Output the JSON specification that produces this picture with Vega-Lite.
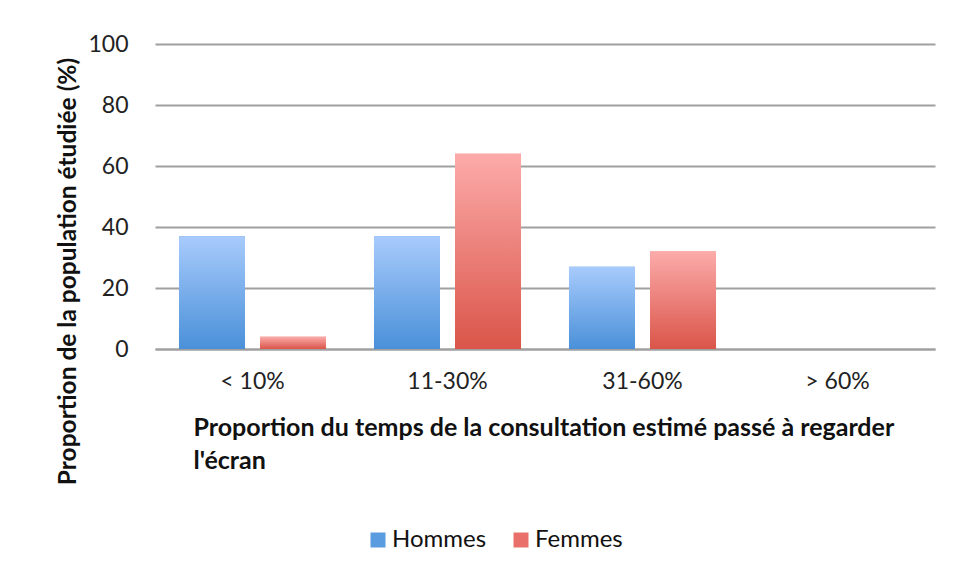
{
  "$schema": "https://vega.github.io/schema/vega-lite/v6.json",
  "width": 780,
  "height": 305,
  "autosize": {"type": "none"},
  "padding": {"left": 155, "top": 44, "right": 24, "bottom": 229},
  "background": "white",
  "config": {
    "view": {"stroke": null},
    "font": "Lato",
    "axis": {"labelFont": "Lato", "titleFont": "Lato", "labelColor": "#222", "titleColor": "#111"}
  },
  "data": {
    "values": [
      {"cat": "< 10%", "sexe": "Hommes", "val": 37},
      {"cat": "< 10%", "sexe": "Femmes", "val": 4},
      {"cat": "11-30%", "sexe": "Hommes", "val": 37},
      {"cat": "11-30%", "sexe": "Femmes", "val": 64},
      {"cat": "31-60%", "sexe": "Hommes", "val": 27},
      {"cat": "31-60%", "sexe": "Femmes", "val": 32},
      {"cat": "> 60%", "sexe": "Hommes", "val": 0},
      {"cat": "> 60%", "sexe": "Femmes", "val": 0}
    ]
  },
  "encoding": {
    "x": {
      "field": "cat", "type": "nominal", "sort": ["< 10%", "11-30%", "31-60%", "> 60%"],
      "scale": {"paddingInner": 0.246, "paddingOuter": 0.123},
      "axis": {
        "title": ["Proportion du temps de la consultation estimé passé à regarder", "l'écran"],
        "titleFontSize": 25, "titleFontWeight": "bold", "titleAlign": "left", "titleX": 38, "titleY": 66,
        "titleLineHeight": 33,
        "labelAngle": 0, "labelFontSize": 23, "labelPadding": 21, "ticks": false,
        "domainColor": "#a0a0a0", "domainWidth": 2
      }
    },
    "xOffset": {"field": "sexe", "type": "nominal", "sort": ["Hommes", "Femmes"], "scale": {"paddingInner": 0.185, "paddingOuter": 0}},
    "y": {
      "field": "val", "type": "quantitative",
      "scale": {"domain": [0, 100]},
      "axis": {
        "title": "Proportion de la population étudiée (%)",
        "titleFontSize": 24.5, "titleFontWeight": "bold", "titleX": -87, "titleY": 227, "titleBaseline": "middle",
        "values": [0, 20, 40, 60, 80, 100], "labelFontSize": 23, "labelPadding": 27, "ticks": false, "domain": false,
        "gridColor": "#a0a0a0", "gridWidth": 2
      }
    }
  },
  "layer": [
    {
      "mark": {"type": "bar"},
      "encoding": {
        "color": {
          "field": "sexe", "type": "nominal", "sort": ["Hommes", "Femmes"],
          "scale": {"domain": ["Hommes", "Femmes"], "range": ["#5b9be0", "#e9706a"]},
          "legend": {
            "title": null, "orient": "none", "direction": "horizontal", "legendX": 211, "legendY": 484,
            "symbolType": "square", "symbolSize": 225, "symbolStrokeWidth": 0, "labelFontSize": 24, "labelFont": "Lato",
            "labelColor": "#111", "columnPadding": 22, "labelOffset": 2
          }
        }
      }
    },
    {
      "mark": {"type": "bar"},
      "encoding": {
        "color": {
          "condition": {
            "test": "datum.sexe === 'Hommes'",
            "value": {"gradient": "linear", "x1": 0, "y1": 0, "x2": 0, "y2": 1, "stops": [{"offset": 0, "color": "#a8cbfc"}, {"offset": 1, "color": "#4a90d9"}]}
          },
          "value": {"gradient": "linear", "x1": 0, "y1": 0, "x2": 0, "y2": 1, "stops": [{"offset": 0, "color": "#fcabaa"}, {"offset": 1, "color": "#da5549"}]}
        }
      }
    }
  ]
}
